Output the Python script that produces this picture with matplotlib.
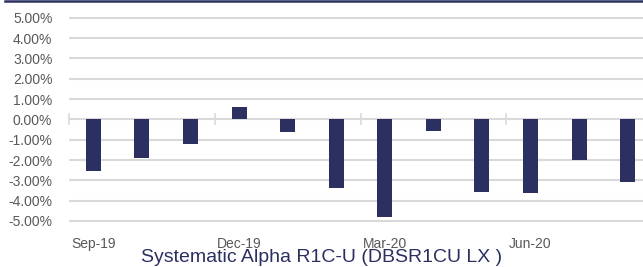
import matplotlib
matplotlib.use("Agg")
import matplotlib.pyplot as plt
from matplotlib.ticker import FuncFormatter

months = ["Sep-19", "Oct-19", "Nov-19", "Dec-19", "Jan-20", "Feb-20",
          "Mar-20", "Apr-20", "May-20", "Jun-20", "Jul-20", "Aug-20"]
values = [-2.55, -1.89, -1.23, 0.62, -0.61, -3.40,
          -4.79, -0.56, -3.56, -3.61, -2.00, -3.10]
yticks = [5, 4, 3, 2, 1, 0, -1, -2, -3, -4, -5]
title = "Systematic Alpha R1C-U (DBSR1CU LX )"

navy = "#2B3061"
grid = "#D9D9D9"
gray = "#595959"

W, H = 643, 267
fig = plt.figure(figsize=(W / 100, H / 100), dpi=100)
plt.rcParams['font.family'] = ['Liberation Sans', 'DejaVu Sans']

# axes: left 69px, width 583px; -5% at y=221, 5% at y=17.7
y5, ym5 = 17.7, 221.0
ppu = (ym5 - y5) / 10.0
lo, hi = -5.08, 5.08
bottom_px = ym5 + (lo + 5) * -ppu
top_px = y5 - (hi - 5) * ppu
ax = fig.add_axes([69 / W, (H - bottom_px) / H, 583 / W, (bottom_px - top_px) / H])
ax.set_ylim(lo, hi)
ax.set_xlim(-0.5, len(months) - 0.5)

for v in yticks:
    ax.axhline(v, color=grid, lw=1.5, zorder=0)

x = list(range(len(months)))
ax.bar(x, values, width=0.31, color=navy, zorder=3)

# boundary tick marks crossing the zero line every 3 categories
for b in range(0, len(months) + 1, 3):
    ax.plot([b - 0.5, b - 0.5], [-0.25, 0.25], color=grid, lw=1.2, zorder=1, clip_on=False)

ax.set_yticks(yticks)
ax.yaxis.set_major_formatter(FuncFormatter(lambda v, p: f"{v:.2f}%"))
ax.set_xticks(x[::3])
ax.set_xticklabels(months[::3])
ax.tick_params(axis='both', length=0, labelsize=10, colors=gray)
ax.tick_params(axis='y', pad=12)
ax.tick_params(axis='x', pad=10)
for s in ax.spines.values():
    s.set_visible(False)

# top navy rule
fig.add_artist(plt.Line2D([5 / W, 1], [1 - 0.8 / H, 1 - 0.8 / H], color=navy, lw=1.8))

fig.text(322 / W, (H - 257.5) / H, title, ha='center', va='center',
         fontsize=14, color=navy)

fig.savefig("out.png", dpi=100)
